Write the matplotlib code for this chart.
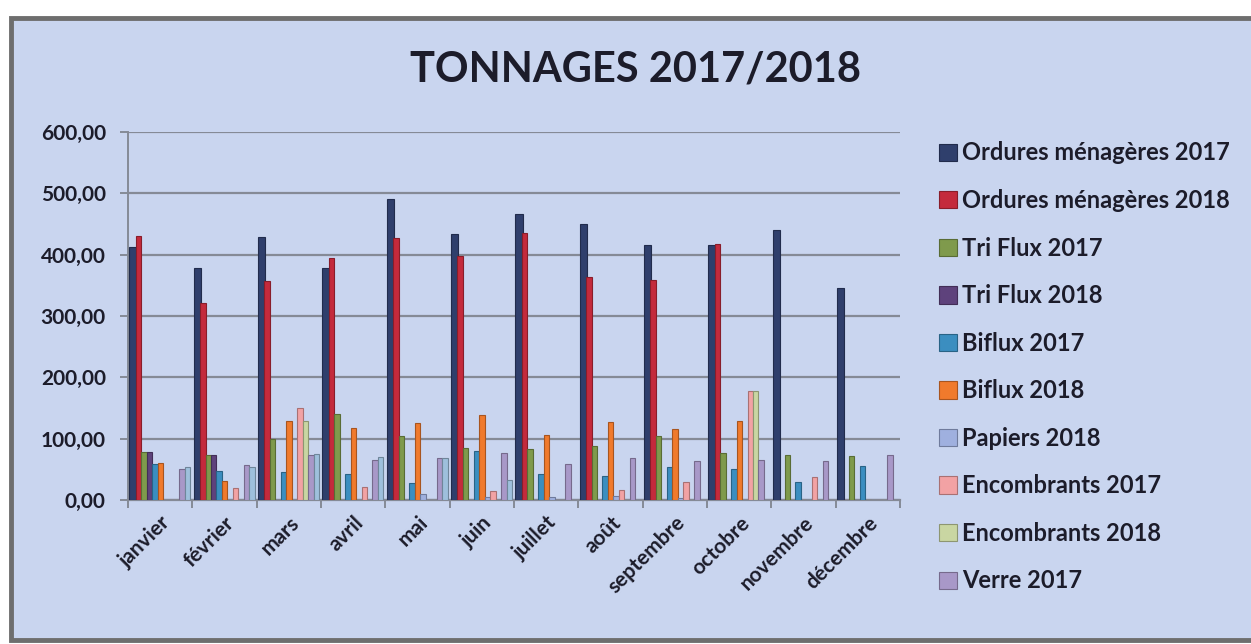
import matplotlib
matplotlib.use("Agg")
import matplotlib.pyplot as plt
import matplotlib.patches as mpatches
from matplotlib.ticker import FuncFormatter, FixedLocator
import numpy as np

plt.rcParams['font.family'] = ['Lato', 'DejaVu Sans']

months = ["janvier", "février", "mars", "avril", "mai", "juin", "juillet",
          "août", "septembre", "octobre", "novembre", "décembre"]

om_2017 = [413, 379, 428, 379, 490, 433, 467, 450, 415, 415, 440, 345]
om_2018 = [431, 322, 357, 394, 427, 398, 435, 363, 359, 418, 0, 0]
triflux_2017 = [78, 74, 100, 141, 104, 84, 83, 88, 105, 76, 74, 72]
triflux_2018 = [78, 74, 0, 0, 0, 0, 0, 0, 0, 0, 0, 0]
biflux_2017 = [58, 48, 46, 43, 28, 80, 42, 39, 54, 50, 30, 56]
biflux_2018 = [60, 31, 128, 117, 126, 138, 106, 127, 116, 128, 0, 0]
papiers_2018 = [0, 0, 0, 0, 9, 5, 5, 6, 3, 0, 0, 0]
encombrants_2017 = [0, 19, 150, 22, 0, 15, 0, 17, 29, 177, 37, 0]
encombrants_2018 = [0, 0, 129, 0, 0, 0, 0, 0, 0, 177, 0, 0]
verre_2017 = [50, 57, 73, 65, 68, 76, 59, 68, 63, 66, 63, 74]
verre_2018 = [53, 53, 75, 70, 69, 33, 0, 0, 0, 0, 0, 0]

series = [
    ("Ordures ménagères 2017", om_2017, "#2f3f6c"),
    ("Ordures ménagères 2018", om_2018, "#c42a3c"),
    ("Tri Flux 2017", triflux_2017, "#7f9a4c"),
    ("Tri Flux 2018", triflux_2018, "#5e427c"),
    ("Biflux 2017", biflux_2017, "#3b8ec0"),
    ("Biflux 2018", biflux_2018, "#f07a2c"),
    ("Papiers 2018", papiers_2018, "#9fb0df"),
    ("Encombrants 2017", encombrants_2017, "#f2a2a4"),
    ("Encombrants 2018", encombrants_2018, "#c9d6a2"),
    ("Verre 2017", verre_2017, "#a898c8"),
    ("_Verre 2018", verre_2018, "#9ec0dc"),
]

y_ticks = [0, 100, 200, 300, 400, 500, 600]

W, H = 1251, 644
fig = plt.figure(figsize=(W / 100, H / 100), dpi=100)
fig.patch.set_facecolor("white")

bg = "#c9d5ef"
frame = mpatches.Rectangle((11 / W, 4 / H), 1.02, (H - 22) / H, transform=fig.transFigure,
                           facecolor=bg, edgecolor="#6e6e6e", linewidth=3.5, zorder=-10)
fig.patches.append(frame)

ax = fig.add_axes([128 / W, 1 - 500 / H, 772 / W, 368 / H])
ax.set_facecolor("none")
ax.set_zorder(5)

n = len(series)
bw = 0.085
x0 = np.arange(len(months))

def darker(c, f=0.7):
    r, g, b = matplotlib.colors.to_rgb(c)
    return (r * f, g * f, b * f)

for i, (label, vals, col) in enumerate(series):
    xs = x0 + 0.035 + (i + 0.5) * bw
    w = bw * (1.35 if i == 0 else 1.0)
    ax.bar(xs, vals, width=w, color=col, edgecolor=darker(col), linewidth=0.8,
           label=label, zorder=3)

ax.set_xlim(0, len(months))
ax.set_ylim(0, 600)
ax.yaxis.set_major_locator(FixedLocator(y_ticks))
ax.yaxis.set_major_formatter(FuncFormatter(lambda v, p: f"{v:.2f}".replace(".", ",")))
ax.grid(axis="y", color="#858a96", linewidth=1.6, zorder=1)

ax.xaxis.set_major_locator(FixedLocator(np.arange(len(months) + 1)))
ax.xaxis.set_major_formatter(FuncFormatter(lambda v, p: ""))
ax.set_xticks(x0 + 0.5, minor=True)
ax.set_xticklabels(months, minor=True, rotation=45, ha="right", rotation_mode="anchor",
                   fontsize=15, fontweight="bold", color="#1c1c2a")
ax.tick_params(axis="x", which="minor", length=0, pad=9)
ax.tick_params(axis="x", which="major", length=6, color="#858a96", width=1.4)
ax.tick_params(axis="y", length=6, color="#858a96", width=1.4, labelsize=15,
               labelcolor="#1c1c2a", pad=10)
for lab in ax.get_yticklabels():
    lab.set_fontweight("bold")

for s in ["top", "right"]:
    ax.spines[s].set_visible(False)
ax.spines["left"].set_color("#858a96")
ax.spines["left"].set_linewidth(1.4)
ax.spines["bottom"].set_color("#858a96")
ax.spines["bottom"].set_linewidth(1.6)

fig.text(635 / W, 1 - 70 / H, "TONNAGES 2017/2018", ha="center", va="center",
         fontsize=30, fontweight="bold", color="#1c1c2a")

handles, labels = ax.get_legend_handles_labels()
leg = fig.legend(handles, labels, loc="upper left", bbox_to_anchor=(930 / W, 1 - 132 / H),
                 frameon=False, fontsize=17, handlelength=0.75, handleheight=0.75,
                 handletextpad=0.2, labelspacing=1.04, borderaxespad=0)
for t in leg.get_texts():
    t.set_fontweight("bold")
    t.set_color("#1c1c2a")

fig.savefig("out.png", dpi=100, facecolor="white")
